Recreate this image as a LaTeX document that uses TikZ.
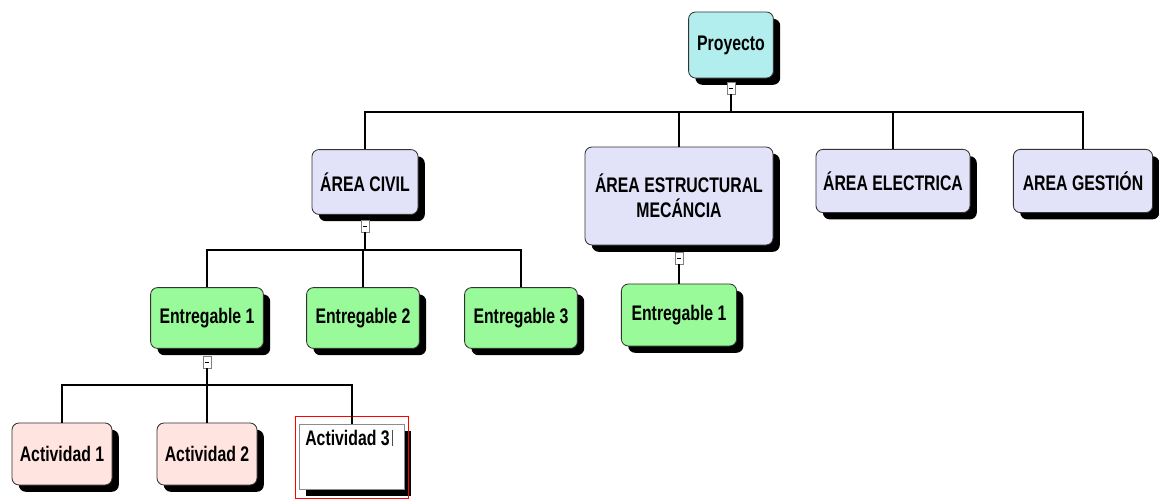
\documentclass[tikz,border=0pt]{standalone}
\usepackage{fontspec}
\setmainfont{Liberation Sans}[FakeStretch=0.75]
\usepackage{tikz}
\usetikzlibrary{
  shadows,
  fit,
  positioning,
}
\definecolor{projfill}{RGB}{178,238,238}
\definecolor{areafill}{RGB}{226,226,248}
\definecolor{delivfill}{RGB}{152,250,152}
\definecolor{actfill}{RGB}{255,228,224}
\tikzset{
  box/.style={
    rectangle,
    rounded corners=5pt,
    draw=black!80,
    line width=0.6pt,
    align=center,
    font=\fontsize{15}{18}\selectfont\bfseries,
    general shadow={fill=black, shadow xshift=0.17cm, shadow yshift=-0.17cm},
  },
  project/.style={box, fill=projfill},
  area/.style={box, fill=areafill},
  deliv/.style={box, fill=delivfill},
  activity/.style={box, fill=actfill},
  editbox/.style={
    rectangle,
    draw=black!45,
    line width=1.2pt,
    fill=white,
    general shadow={fill=black, shadow xshift=0.17cm, shadow yshift=-0.17cm},
  },
  toggle/.style={
    rectangle,
    draw=black!50,
    fill=white,
    line width=0.4pt,
    minimum width=0.2cm,
    minimum height=0.3cm,
    inner sep=0pt,
    path picture={\draw[black, line width=0.7pt]
      ([xshift=-1.5pt]path picture bounding box.center) --
      ([xshift=1.5pt]path picture bounding box.center);},
  },
  link/.style={
    line width=1.8pt,
    black,
  },
}

\begin{document}
\begin{tikzpicture}[x=0.025cm, y=-0.025cm]
  \useasboundingbox (0,0) rectangle (1159,500);

  % Root
  \node (proj) [project, minimum width=2.12cm, minimum height=1.65cm] at (731,45) {Proyecto};

  % Areas
  \node (civil) [area, minimum width=2.65cm, minimum height=1.62cm] at (365,182) {ÁREA CIVIL};
  \node (estr) [area, minimum width=4.7cm, minimum height=2.45cm] at (679,196)
    {ÁREA ESTRUCTURAL\\MECÁNCIA};
  \node (elec) [area, minimum width=3.85cm, minimum height=1.58cm] at (893,181) {ÁREA ELECTRICA};
  \node (gest) [area, minimum width=3.48cm, minimum height=1.58cm] at (1083,181) {AREA GESTIÓN};

  % Deliverables
  \node (civ1) [deliv, minimum width=2.82cm, minimum height=1.52cm] at (207,318) {Entregable 1};
  \node (civ2) [deliv, minimum width=2.82cm, minimum height=1.52cm] at (363,318) {Entregable 2};
  \node (civ3) [deliv, minimum width=2.82cm, minimum height=1.52cm] at (521,318) {Entregable 3};
  \node (estr1) [deliv, minimum width=2.88cm, minimum height=1.55cm] at (679,315) {Entregable 1};

  % Activities
  \node (act1) [activity, minimum width=2.5cm, minimum height=1.55cm] at (62,454) {Actividad 1};
  \node (act2) [activity, minimum width=2.5cm, minimum height=1.55cm] at (207,454) {Actividad 2};
  \node (act3) [editbox, minimum width=2.62cm, minimum height=1.62cm] at (352,457) {};
  \node (act3txt) [font=\fontsize{15}{18}\selectfont\bfseries, inner sep=0pt,
    anchor=north west] at (305,430) {Actividad 3};
  \draw[black!70, line width=0.8pt] ([xshift=1.5pt]act3txt.north east) -- ([xshift=1.5pt]act3txt.south east);
  \node (act3sel) [draw=red, line width=0.6pt, inner sep=0pt, fit=(act3),
    minimum width=2.82cm, minimum height=2.05cm, yshift=-0.02cm] {};

  % Collapse toggles
  \node (proj-t) [toggle] at (731,88) {};
  \node (civil-t) [toggle] at (365,226) {};
  \node (estr-t) [toggle] at (679,258) {};
  \node (civ1-t) [toggle] at (207,362) {};

  % Bus junctions
  \coordinate (proj-bus) at (731,112);
  \coordinate (civil-bus) at (365,250);
  \coordinate (civ1-bus) at (207,385);

  % Connectors
  \foreach \child in {civil,estr,elec,gest}
    \draw [link] (proj-t.south) -- (proj-bus) -| (\child.north);
  \foreach \child in {civ1,civ2,civ3}
    \draw [link] (civil-t.south) -- (civil-bus) -| (\child.north);
  \draw [link] (estr-t.south) -- (estr1.north);
  \foreach \child in {act1,act2,act3}
    \draw [link] (civ1-t.south) -- (civ1-bus) -| (\child.north);

\end{tikzpicture}
\end{document}
